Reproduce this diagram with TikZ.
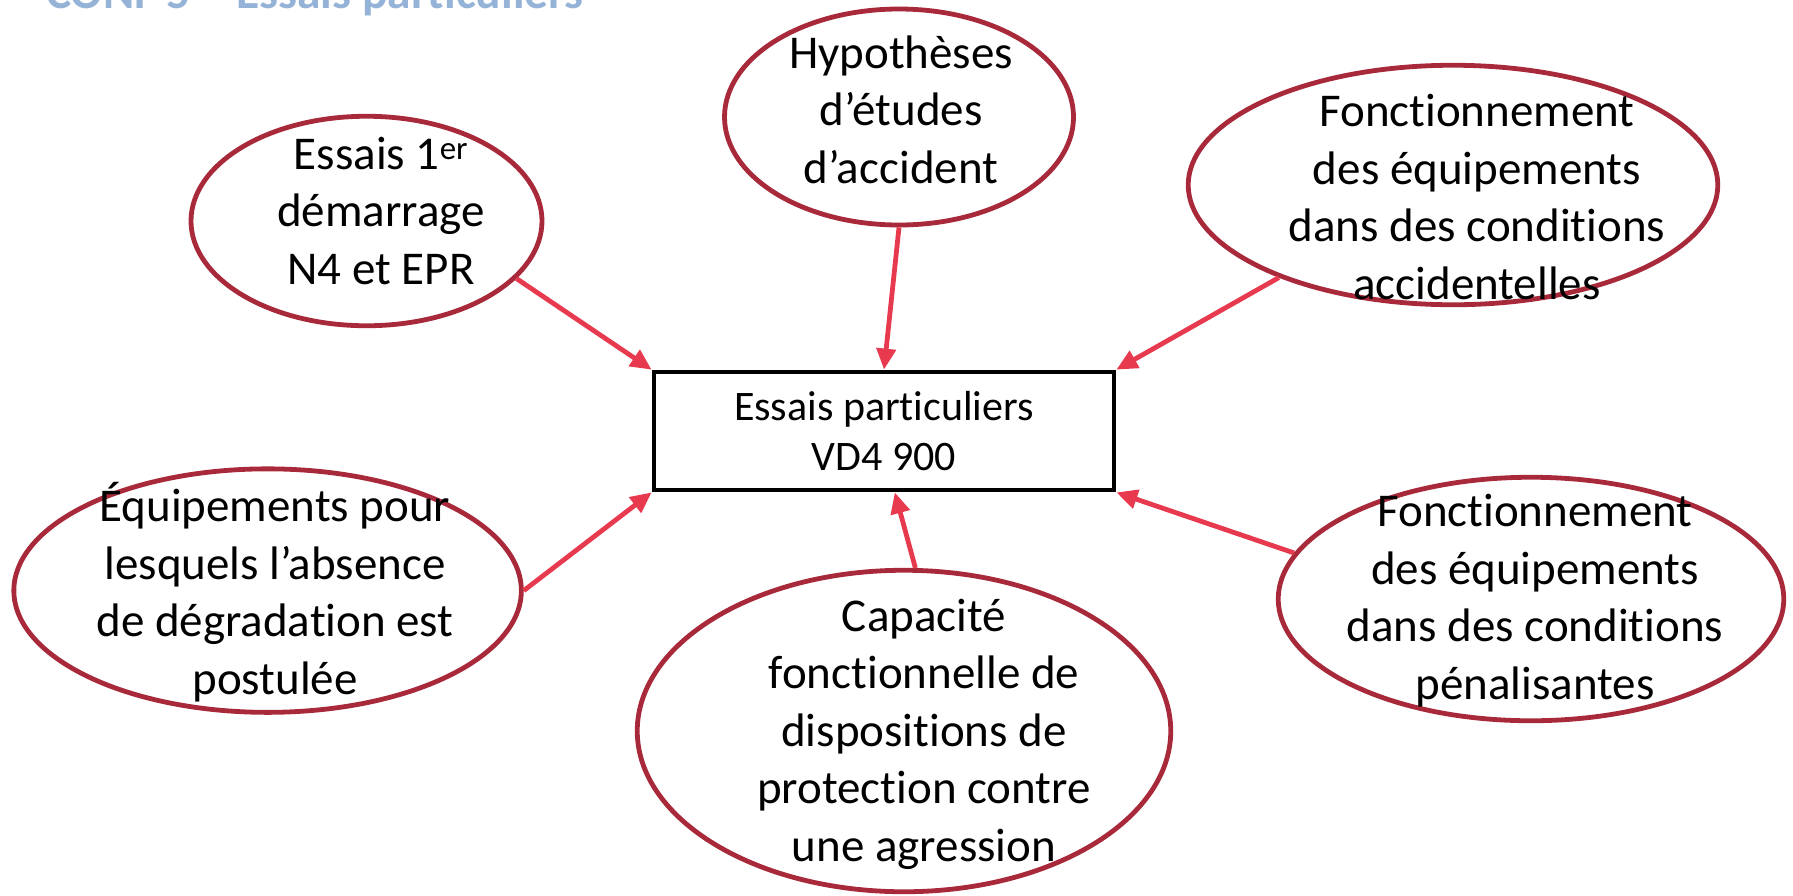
\documentclass[tikz,border=0pt]{standalone}
\usepackage{fontspec}
\setmainfont{Carlito}[Ligatures={NoCommon,NoContextual,NoRequired},Contextuals=NoAlternate]
\usetikzlibrary{shapes.geometric,arrows.meta}
\definecolor{ellred}{HTML}{A8293A}
\definecolor{arrred}{HTML}{E83A4F}
\definecolor{titleblue}{HTML}{95B3D7}
\newcommand{\tti}{t\kern0pt i}
\begin{document}
\begin{tikzpicture}[x=1pt,y=-1pt,
 bubble/.style={draw=ellred, line width=4.8pt, ellipse, inner sep=0pt},
 bubbletext/.style={align=center, inner sep=0pt, font=\fontsize{47}{57.5}\selectfont, anchor=base},
 link/.style={draw=arrred, line width=4.8pt, -{Triangle[length=21pt,width=19pt]}},
 centerbox/.style={draw=black, line width=4.8pt, align=center, inner sep=0pt, font=\fontsize{42}{50}\selectfont},
]
\useasboundingbox (0,0) rectangle (1793,895);
\node[anchor=base west, inner sep=0pt, font=\fontsize{47.5}{52}\selectfont\bfseries, text=titleblue] (title) at (46,8) {CONF 5 – Essais par\tti culiers};

\node[centerbox, minimum width=460pt, minimum height=118pt] (box) at (884,431) {Essais par\tti culiers\\VD4 900};

\node[bubble, minimum width=351pt, minimum height=209.5pt] (e1) at (366.5,221) {};
\node[bubble, minimum width=349pt, minimum height=216pt] (e2) at (899,117) {};
\node[bubble, minimum width=529.5pt, minimum height=239.5pt] (e3) at (1453,185) {};
\node[bubble, minimum width=507.5pt, minimum height=243.5pt] (e4) at (267.6,590.6) {};
\node[bubble, minimum width=533.5pt, minimum height=321.5pt] (e5) at (904,731) {};
\node[bubble, minimum width=505.5pt, minimum height=243.5pt] (e6) at (1531,599) {};

\draw[link] (e1.-21) -- (box.north west);
\draw[link] (e2.south) -- (box.north);
\draw[link] (e3.208) -- (box.north east);
\draw[link] (e4.east) -- (box.south west);
\draw[link] (e5.86) -- (box.-80);
\draw[link] (e6.169) -- (box.south east);

\node[bubbletext] (t1) at (381,284) {Essais 1\textsuperscript{er}\\démarrage\\N4 et EPR};
\node[bubbletext] (t2) at (901,183) {Hypothèses\\d’études\\d’accident};
\node[bubbletext] (t3) at (1477,299) {Fonc\tti onnement\\des équipements\\dans des condi\tti ons\\accidentelles};
\node[bubbletext] (t4) at (275,694) {Équipements pour\\lesquels l’absence\\de dégrada\tti on est\\postulée};
\node[bubbletext] (t5) at (924,861) {Capacité\\fonc\tti onnelle de\\disposi\tti ons de\\protec\tti on contre\\une agression};
\node[bubbletext] (t6) at (1535,699) {Fonc\tti onnement\\des équipements\\dans des condi\tti ons\\pénalisantes};
\end{tikzpicture}
\end{document}
